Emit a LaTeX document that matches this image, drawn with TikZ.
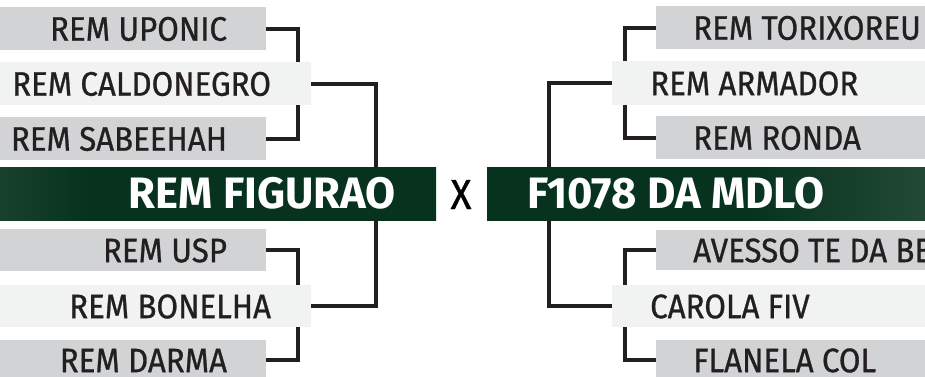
\documentclass[tikz,border=0pt]{standalone}
\usepackage{fontspec}
\setmainfont{Fira Sans}
\newfontfamily\teamfont{Fira Sans}[FakeStretch=0.92, FakeBold=0.8]
\newfontfamily\finalfont{Fira Sans}[FakeStretch=0.99]
\usetikzlibrary{calc}
\definecolor{boxgray}{HTML}{D1D3D4}
\definecolor{boxlight}{HTML}{F1F2F2}
\definecolor{ink}{HTML}{231F20}
\definecolor{gdark}{HTML}{07331E}
\definecolor{glight}{HTML}{436553}
\pgfdeclarehorizontalshading{leftbar}{100bp}{color(0bp)=(glight); color(35bp)=(gdark); color(100bp)=(gdark)}
\pgfdeclarehorizontalshading{rightbar}{100bp}{color(0bp)=(gdark); color(55bp)=(gdark); color(100bp)=(glight)}
\tikzset{
  team/.style={draw=none, inner sep=0pt, minimum height=43pt, anchor=north west},
  grayteam/.style={team, fill=boxgray},
  lightteam/.style={team, fill=boxlight},
  lbl/.style={inner sep=0pt, text=ink, font=\teamfont\fontsize{34}{34}\selectfont},
  finalist/.style={inner sep=0pt, minimum height=53pt, anchor=north west},
  finlbl/.style={inner sep=0pt, text=white, font=\finalfont\bfseries\fontsize{44}{44}\selectfont},
  link/.style={draw=ink, line width=4pt},
}
\begin{document}
\begin{tikzpicture}[x=1pt,y=-1pt]
\clip (0,0) rectangle (925,376);
\fill[white] (0,0) rectangle (925,376);
% left side
\node[grayteam, minimum width=266pt] (uponic) at (0,7) {};
\node[lightteam, minimum width=311pt] (caldonegro) at (0,62) {};
\node[grayteam, minimum width=266pt] (sabeehah) at (0,117) {};
\node[finalist, minimum width=436pt, shading=leftbar] (figurao) at (0,167) {};
\node[grayteam, minimum width=266pt, minimum height=42pt] (usp) at (0,229) {};
\node[lightteam, minimum width=311pt, minimum height=42pt] (bonelha) at (0,285) {};
\node[grayteam, minimum width=266pt, minimum height=40pt] (darma) at (0,340) {};
% right side
\node[grayteam, minimum width=269pt] (torixoreu) at (656,6) {};
\node[lightteam, minimum width=313pt, minimum height=44pt] (armador) at (612,61) {};
\node[grayteam, minimum width=269pt] (ronda) at (656,116) {};
\node[finalist, minimum width=438pt, shading=rightbar] (mdlo) at (487,167) {};
\node[grayteam, minimum width=269pt, minimum height=40pt] (avesso) at (656,230) {};
\node[lightteam, minimum width=313pt, minimum height=42pt] (carola) at (612,285) {};
\node[grayteam, minimum width=269pt, minimum height=40pt] (flanela) at (656,340) {};
% labels
\node[lbl, anchor=base east] (tuponic) at ($(uponic.center)+(227-133,12)$) {REM UPONIC};
\node[lbl, anchor=base east] (tcaldonegro) at ($(caldonegro.center)+(271-155.5,12)$) {REM CALDONEGRO};
\node[lbl, anchor=base east] (tsabeehah) at ($(sabeehah.center)+(227-133,12)$) {REM SABEEHAH};
\node[lbl, anchor=base east] (tusp) at ($(usp.center)+(227-133,12)$) {REM USP};
\node[lbl, anchor=base east] (tbonelha) at ($(bonelha.center)+(271-155.5,12)$) {REM BONELHA};
\node[lbl, anchor=base east] (tdarma) at ($(darma.center)+(227-133,12)$) {REM DARMA};
\node[lbl, anchor=base west] (ttorixoreu) at ($(torixoreu.west)+(37,12)$) {REM TORIXOREU};
\node[lbl, anchor=base west] (tarmador) at ($(armador.west)+(38,12)$) {REM ARMADOR};
\node[lbl, anchor=base west] (tronda) at ($(ronda.west)+(37,12)$) {REM RONDA};
\node[lbl, anchor=base west] (tavesso) at ($(avesso.west)+(37,12)$) {AVESSO TE DA BE};
\node[lbl, anchor=base west] (tcarola) at ($(carola.west)+(38,12)$) {CAROLA FIV};
\node[lbl, anchor=base west] (tflanela) at ($(flanela.west)+(37,12)$) {FLANELA COL};
\node[finlbl, anchor=base east] (tfigurao) at ($(figurao.west)+(396,15)$) {REM FIGURAO};
\node[finlbl, anchor=base west] (tmdlo) at ($(mdlo.west)+(40,15)$) {F1078 DA MDLO};
\node[inner sep=0pt, text=black, font=\teamfont\fontsize{42}{42}\selectfont, anchor=base] (vs) at (461,209) {X};
% connectors
\coordinate (lj) at (298,0);
\coordinate (lf) at (376,0);
\coordinate (rj) at (625,0);
\coordinate (rf) at (549,0);
\draw[link] (uponic.east) -| (lj |- caldonegro.north);
\draw[link] (sabeehah.east) -| (lj |- caldonegro.south);
\draw[link] (caldonegro.east) -| (lf |- figurao.north);
\draw[link] (usp.east) -| (lj |- bonelha.north);
\draw[link] (darma.east) -| (lj |- bonelha.south);
\draw[link] (bonelha.east) -| (lf |- figurao.south);
\draw[link] (torixoreu.west) -| (rj |- armador.north);
\draw[link] (ronda.west) -| (rj |- armador.south);
\draw[link] (armador.west) -| (rf |- mdlo.north);
\draw[link] (avesso.west) -| (rj |- carola.north);
\draw[link] (flanela.west) -| (rj |- carola.south);
\draw[link] (carola.west) -| (rf |- mdlo.south);
\end{tikzpicture}
\end{document}
